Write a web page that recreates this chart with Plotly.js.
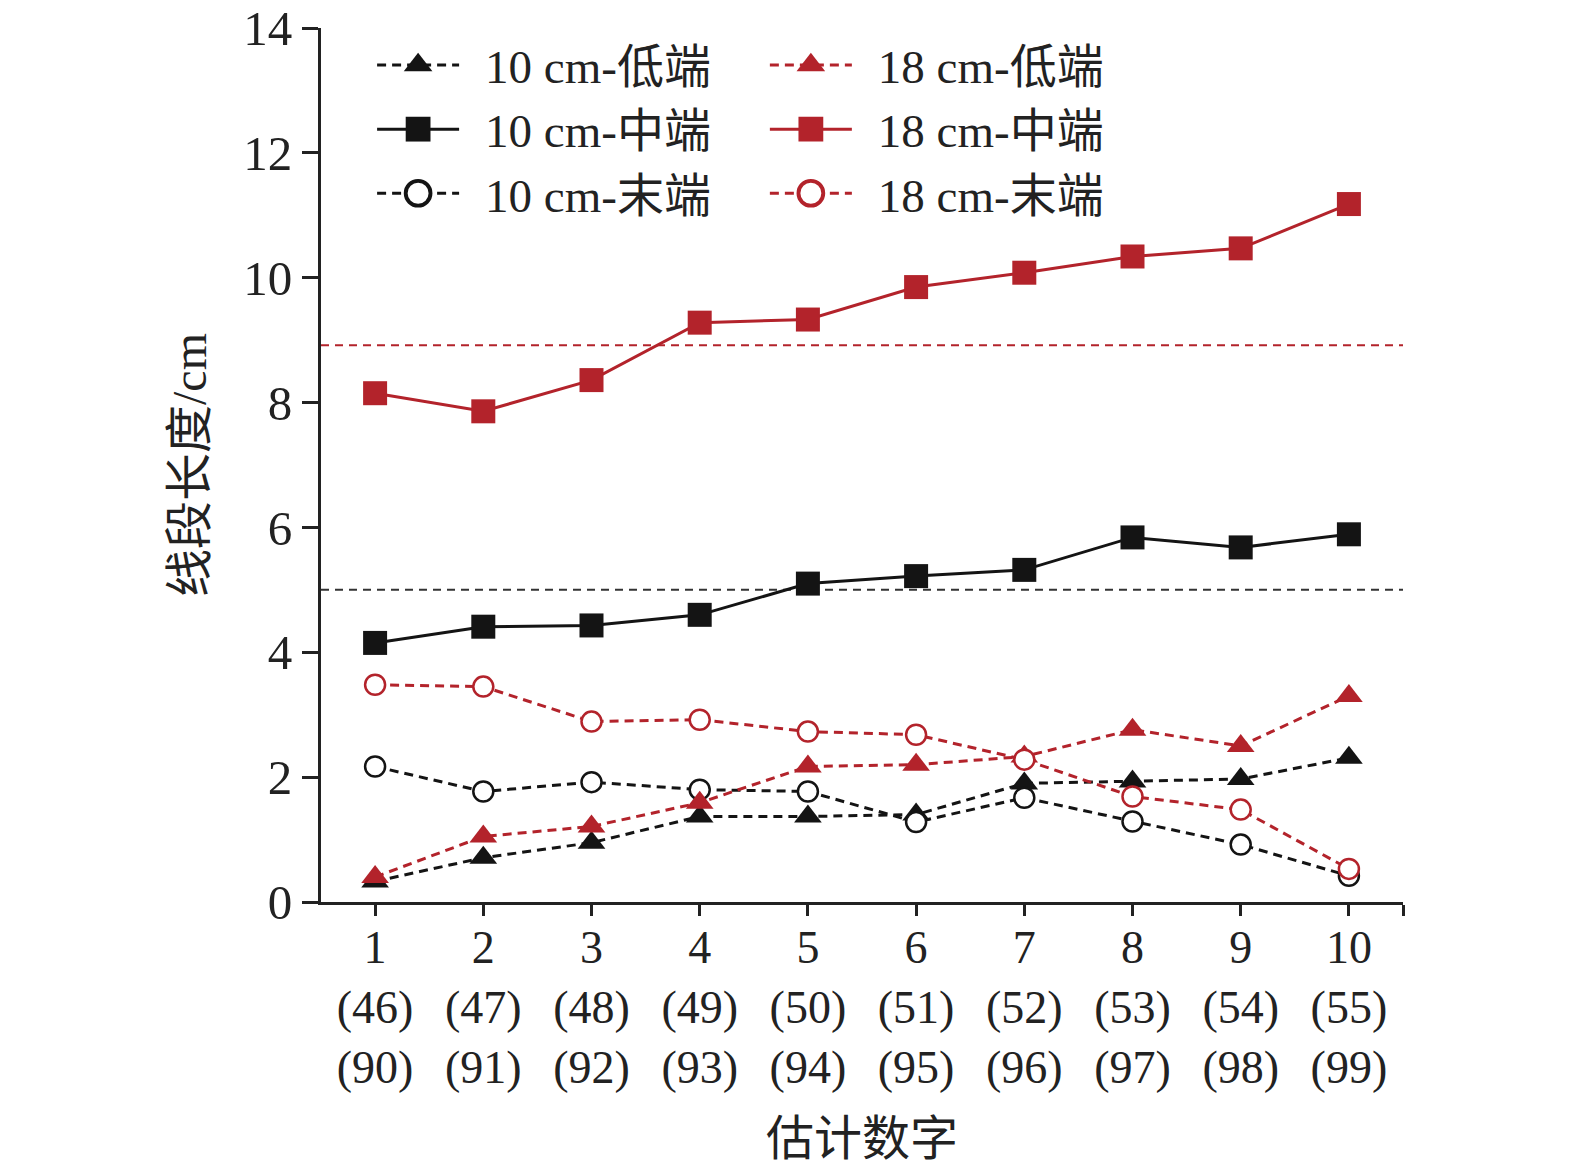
<!DOCTYPE html>
<html>
<head>
<meta charset="utf-8">
<script src="https://cdn.plot.ly/plotly-3.0.1.min.js"></script>
<style>
  html, body { margin: 0; padding: 0; background: #fff; }
  #chart { width: 1575px; height: 1176px; }
</style>
</head>
<body>
<div id="chart"></div>
<script>
  // Estimated number (x) with the two companion values shown under each tick
  const estimate = [1, 2, 3, 4, 5, 6, 7, 8, 9, 10];
  const tickText = [
    "1<br>(46)<br>(90)", "2<br>(47)<br>(91)", "3<br>(48)<br>(92)", "4<br>(49)<br>(93)",
    "5<br>(50)<br>(94)", "6<br>(51)<br>(95)", "7<br>(52)<br>(96)", "8<br>(53)<br>(97)",
    "9<br>(54)<br>(98)", "10<br>(55)<br>(99)",
  ];
  const xAxisEnd = 10.5;   // the axis closes with an unlabelled tick

  // Segment length (cm)
  const low10 = [0.33, 0.71, 0.95, 1.37, 1.37, 1.40, 1.90, 1.93, 1.97, 2.31];
  const mid10 = [4.15, 4.41, 4.43, 4.60, 5.10, 5.22, 5.32, 5.84, 5.68, 5.89];
  const end10 = [2.17, 1.77, 1.92, 1.80, 1.77, 1.28, 1.67, 1.29, 0.92, 0.42];
  const low18 = [0.40, 1.05, 1.21, 1.59, 2.17, 2.20, 2.33, 2.76, 2.50, 3.30];
  const mid18 = [8.15, 7.86, 8.36, 9.28, 9.33, 9.85, 10.08, 10.34, 10.47, 11.18];
  const end18 = [3.48, 3.45, 2.89, 2.92, 2.73, 2.68, 2.28, 1.69, 1.48, 0.53];

  // Dashed reference levels (half of each line length)
  const ref10 = 5.0;
  const ref18 = 8.92;

  const BLACK = "#141414";
  const RED = "#b3232b";
  const FONT = "'Liberation Serif', 'Times New Roman', 'Noto Sans CJK SC', serif";
  const DASH = "9px,6px";

  function series(name, y, color, kind, legend) {
    const t = { type: "scatter", mode: "lines+markers", name: name, x: estimate, y: y, legend: legend,
      line: { color: color, width: 3, dash: kind === "mid" ? "solid" : DASH } };
    if (kind === "low") t.marker = { symbol: "triangle-up", size: 24, color: color };
    if (kind === "mid") t.marker = { symbol: "square", size: 24, color: color };
    if (kind === "end") t.marker = { symbol: "circle", size: 20, color: "#fff", line: { color: color, width: 2.5 } };
    return t;
  }

  const traces = [
    series("10 cm-低端", low10, BLACK, "low", "legend"),
    series("10 cm-中端", mid10, BLACK, "mid", "legend"),
    series("10 cm-末端", end10, BLACK, "end", "legend"),
    series("18 cm-低端", low18, RED, "low", "legend2"),
    series("18 cm-中端", mid18, RED, "mid", "legend2"),
    series("18 cm-末端", end18, RED, "end", "legend2"),
  ];

  const legendBase = {
    xref: "paper", yref: "paper", xanchor: "left", yanchor: "top", y: 1.0,
    bgcolor: "rgba(0,0,0,0)", itemwidth: 100, tracegroupgap: 0,
    font: { family: FONT, size: 47, color: "#222" },
  };

  const layout = {
    width: 1575, height: 1176,
    margin: { l: 321, r: 172, t: 28, b: 274 },
    paper_bgcolor: "#fff", plot_bgcolor: "#fff",
    font: { family: FONT, size: 48, color: "#222" },
    xaxis: {
      range: [0.5, xAxisEnd], tickvals: estimate.concat([xAxisEnd]), ticktext: tickText.concat([""]),
      showline: true, linewidth: 3, linecolor: "#222", showgrid: false, zeroline: false,
      ticks: "outside", ticklen: 11, tickwidth: 3, tickcolor: "#222",
      tickfont: { family: FONT, size: 46, color: "#222" }, ticklabelstandoff: -8,
      title: { text: "估计数字", standoff: 30, font: { family: FONT, size: 48, color: "#222" } },
      automargin: false,
    },
    yaxis: {
      range: [0, 14], dtick: 2, tick0: 0,
      showline: true, linewidth: 3, linecolor: "#222", showgrid: false, zeroline: false,
      ticks: "outside", ticklen: 16, tickwidth: 3, tickcolor: "#222",
      tickfont: { family: FONT, size: 49, color: "#222" },
      title: { text: "线段长度/cm", standoff: 22, font: { family: FONT, size: 48, color: "#222" } },
      automargin: false,
    },
    shapes: [
      { type: "line", xref: "paper", x0: 0, x1: 1, yref: "y", y0: ref10, y1: ref10,
        line: { color: "#333", width: 2, dash: "8px,6px" }, layer: "below" },
      { type: "line", xref: "paper", x0: 0, x1: 1, yref: "y", y0: ref18, y1: ref18,
        line: { color: RED, width: 2, dash: "8px,6px" }, layer: "below" },
    ],
    showlegend: true,
    legend: { ...legendBase, x: 0.05 },
    legend2: { ...legendBase, x: 0.413 },
  };

  // Plotly draws a fixed 30px legend sample; stretch it to the wide samples of the figure.
  function stretchLegendSamples(gd) {
    gd.querySelectorAll("g.traces").forEach(item => {
      item.querySelectorAll(".legendlines path").forEach(p => p.setAttribute("d", "M2,0h82"));
      item.querySelectorAll(".legendpoints path").forEach(p =>
        p.setAttribute("transform", "translate(43,0) scale(1.55)"));
    });
  }

  Plotly.newPlot("chart", traces, layout, { staticPlot: true, displayModeBar: false })
    .then(stretchLegendSamples);
</script>
</body>
</html>
